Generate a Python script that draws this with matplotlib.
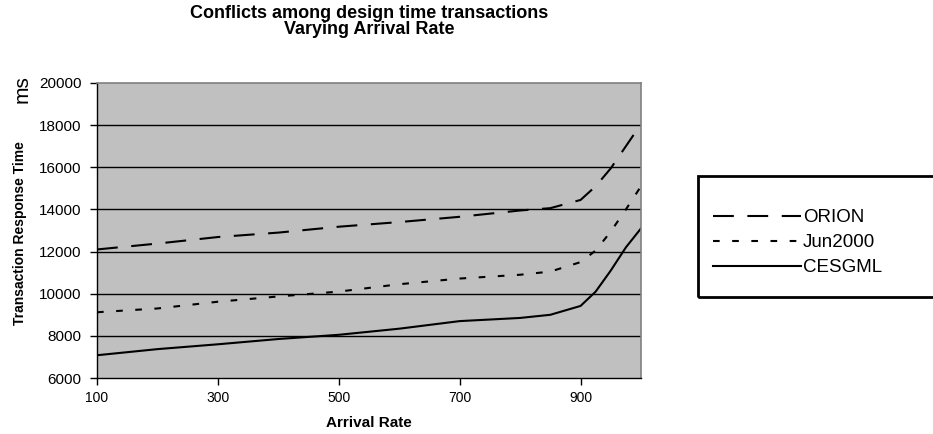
import matplotlib
matplotlib.use("Agg")
import matplotlib.pyplot as plt
from matplotlib.patches import Rectangle

# Arrival rate vs. transaction response time (ms)
arrival_rate = [100, 200, 300, 400, 500, 600, 700, 800, 850, 900, 925, 950, 975, 1000]
orion = [12100, 12380, 12690, 12900, 13180, 13400, 13650, 13950, 14060, 14450, 15100, 15950, 17000, 18050]
jun2000 = [9120, 9300, 9620, 9870, 10100, 10450, 10720, 10900, 11050, 11500, 12050, 12950, 14000, 15100]
cesgml = [7080, 7370, 7600, 7850, 8050, 8340, 8700, 8850, 9000, 9420, 10100, 11100, 12200, 13100]

x_ticks = [100, 300, 500, 700, 900]
y_ticks = [6000, 8000, 10000, 12000, 14000, 16000, 18000, 20000]

plt.rcParams["font.family"] = ["Liberation Sans", "DejaVu Sans"]

W, H = 933, 434
fig = plt.figure(figsize=(W / 100, H / 100), dpi=100)
ax = fig.add_axes([97 / W, 56 / H, 544 / W, 295 / H])
ax.set_facecolor("#c0c0c0")

ax.plot(arrival_rate, orion, color="black", lw=1.5, linestyle=(0, (10, 6.5)), label="ORION")
ax.plot(arrival_rate, jun2000, color="black", lw=1.5, linestyle=(0, (3.2, 6)), label="Jun2000")
ax.plot(arrival_rate, cesgml, color="black", lw=1.5, label="CESGML")

ax.set_xlim(100, 1000)
ax.set_ylim(6000, 20000)
ax.set_xticks(x_ticks)
ax.set_yticks(y_ticks)
ax.tick_params(length=5, width=1, direction="out", color="black")
ax.tick_params(axis="x", labelsize=10, pad=4)
ax.tick_params(axis="y", labelsize=11, pad=6)

for y in y_ticks[1:-1]:
    ax.axhline(y, color="black", lw=1.0, zorder=1)

for side in ["top", "right"]:
    ax.spines[side].set_color("#808080")
    ax.spines[side].set_linewidth(1.2)
for side in ["left", "bottom"]:
    ax.spines[side].set_color("black")
    ax.spines[side].set_linewidth(1.0)

ax.set_xlabel("Arrival Rate", fontsize=11, fontweight="bold", labelpad=8)
fig.text(20 / W, 1 - 233 / H, "Transaction Response Time", rotation=90,
         fontsize=10, fontweight="bold", ha="center", va="center")
fig.text(22 / W, 1 - 89 / H, "ms", rotation=90, fontsize=15,
         ha="center", va="center")

ax.set_title("Conflicts among design time transactions\nVarying Arrival Rate",
             fontsize=13, fontweight="bold", pad=35, linespacing=0.95)

# legend box, running off the right edge of the figure
fig.patches.append(Rectangle((698 / W, 1 - 297 / H), 250 / W, 121 / H,
                             transform=fig.transFigure, fill=False,
                             edgecolor="black", linewidth=2))
ax.legend(loc="upper left", bbox_to_anchor=(700 / W, 1 - 196 / H),
          bbox_transform=fig.transFigure, fontsize=13.5, frameon=False,
          handlelength=4.7, handletextpad=0.1, labelspacing=0.42, borderpad=0.2)

fig.savefig("out.png", dpi=100)
